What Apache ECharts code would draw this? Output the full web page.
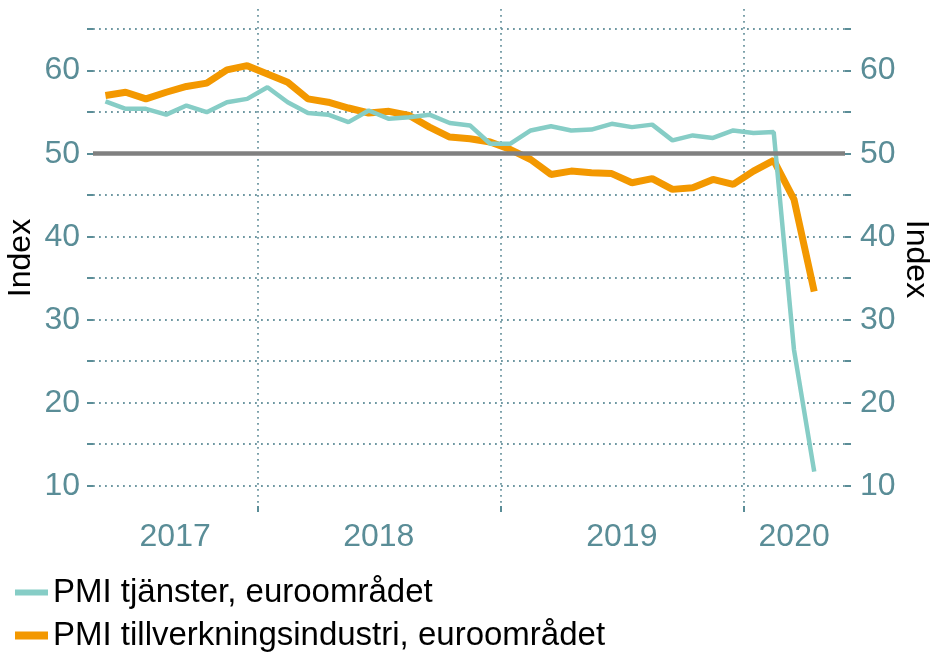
<!DOCTYPE html>
<html>
<head>
<meta charset="utf-8">
<script src="https://cdn.jsdelivr.net/npm/echarts@6/dist/echarts.min.js"></script>
<style>
  html, body { margin: 0; padding: 0; background: #fff; }
  #chart { width: 930px; height: 655px; }
</style>
</head>
<body>
<div id="chart"></div>
<script>
// monthly PMI, euro area
const months = [
  '2017-05', '2017-06', '2017-07', '2017-08', '2017-09', '2017-10', '2017-11', '2017-12',
  '2018-01', '2018-02', '2018-03', '2018-04', '2018-05', '2018-06', '2018-07', '2018-08',
  '2018-09', '2018-10', '2018-11', '2018-12', '2019-01', '2019-02', '2019-03', '2019-04',
  '2019-05', '2019-06', '2019-07', '2019-08', '2019-09', '2019-10', '2019-11', '2019-12',
  '2020-01', '2020-02', '2020-03', '2020-04'
];
const services = [
  56.3, 55.4, 55.4, 54.7, 55.8, 55.0, 56.2, 56.6,
  58.0, 56.2, 54.9, 54.7, 53.8, 55.2, 54.2, 54.4,
  54.7, 53.7, 53.4, 51.2, 51.2, 52.8, 53.3, 52.8,
  52.9, 53.6, 53.2, 53.5, 51.6, 52.2, 51.9, 52.8,
  52.5, 52.6, 26.4, 11.7
];
const manufacturing = [
  57.0, 57.4, 56.6, 57.4, 58.1, 58.5, 60.1, 60.6,
  59.6, 58.6, 56.6, 56.2, 55.5, 54.9, 55.1, 54.6,
  53.2, 52.0, 51.8, 51.4, 50.5, 49.3, 47.5, 47.9,
  47.7, 47.6, 46.5, 47.0, 45.7, 45.9, 46.9, 46.3,
  47.9, 49.2, 44.5, 33.4
];
const years = ['2017', '2018', '2019', '2020'];
const yTicks = [10, 15, 20, 25, 30, 35, 40, 45, 50, 55, 60, 65];
const yLabels = [10, 20, 30, 40, 50, 60];
const seriesNames = ['PMI tjänster, euroområdet', 'PMI tillverkningsindustri, euroområdet'];

// x in months since jan 2017, points at mid month
const toX = s => (parseInt(s.slice(0, 4)) - 2017) * 12 + parseInt(s.slice(5, 7)) - 1 + 0.5;
const xMin = 3.886, xMax = 41.02;
const yearStarts = years.slice(1).map(y => (parseInt(y) - 2017) * 12);
const yearMids = years.map((y, i) => {
  const a = Math.max(xMin, i * 12), b = Math.min(xMax, (i + 1) * 12);
  return (a + b) / 2;
});

const teal = '#86cdc6';
const orange = '#f39800';
const axisCol = '#5a8d97';
const gridLine = { color: '#6f98a2', width: 1.8, type: [1.8, 4.2] };
const font = 'Liberation Sans, Arial, sans-serif';

const chart = echarts.init(document.getElementById('chart'));

const yAxisBase = {
  type: 'value',
  min: 6.83,
  max: 67.43,
  axisLine: { show: false },
  axisTick: { show: true, customValues: yTicks, length: 6, lineStyle: { color: axisCol, width: 2 } },
  axisLabel: {
    customValues: yLabels,
    color: axisCol,
    fontSize: 32,
    fontFamily: font
  }
};

chart.setOption({
  animation: false,
  grid: { left: 93, right: 85, top: 9, bottom: 143 },
  xAxis: {
    type: 'value',
    min: xMin,
    max: xMax,
    axisLine: { show: false },
    axisTick: { show: true, inside: true, length: 6, customValues: yearStarts, lineStyle: { color: axisCol, width: 2 } },
    axisLabel: {
      customValues: yearMids,
      formatter: v => years[Math.floor(v / 12)],
      color: axisCol,
      fontSize: 32,
      fontFamily: font,
      margin: 9
    },
    splitLine: { show: true, lineStyle: gridLine }
  },
  yAxis: [
    Object.assign({}, yAxisBase, {
      position: 'left',
      axisLabel: Object.assign({}, yAxisBase.axisLabel, { margin: 13 }),
      splitLine: { show: true, lineStyle: gridLine }
    }),
    Object.assign({}, yAxisBase, {
      position: 'right',
      axisLabel: Object.assign({}, yAxisBase.axisLabel, { margin: 15 }),
      splitLine: { show: false }
    })
  ],
  legend: [
    {
      data: [seriesNames[0]],
      left: 15,
      top: 576,
      padding: 0,
      icon: 'rect',
      itemWidth: 33,
      itemHeight: 6,
      textStyle: { color: '#000', fontSize: 33, fontFamily: font }
    },
    {
      data: [seriesNames[1]],
      left: 15,
      top: 619,
      padding: 0,
      icon: 'rect',
      itemWidth: 33,
      itemHeight: 8,
      textStyle: { color: '#000', fontSize: 33, fontFamily: font }
    }
  ],
  graphic: [
    {
      type: 'text', x: 21.5, y: 258, rotation: Math.PI / 2,
      style: { text: 'Index', fill: '#000', font: '32px ' + font, align: 'center', verticalAlign: 'middle' }
    },
    {
      type: 'text', x: 915.5, y: 259, rotation: -Math.PI / 2,
      style: { text: 'Index', fill: '#000', font: '32px ' + font, align: 'center', verticalAlign: 'middle' }
    }
  ],
  series: [
    {
      name: 'ref',
      type: 'line',
      data: [],
      silent: true,
      markLine: {
        silent: true,
        symbol: 'none',
        label: { show: false },
        lineStyle: { color: '#808080', width: 4.5, type: 'solid' },
        data: [{ yAxis: 50 }]
      }
    },
    {
      name: seriesNames[1],
      type: 'line',
      data: months.map((m, i) => [toX(m), manufacturing[i]]),
      showSymbol: false,
      lineStyle: { color: orange, width: 7 },
      itemStyle: { color: orange }
    },
    {
      name: seriesNames[0],
      type: 'line',
      data: months.map((m, i) => [toX(m), services[i]]),
      showSymbol: false,
      lineStyle: { color: teal, width: 4.5 },
      itemStyle: { color: teal }
    }
  ]
});
</script>
</body>
</html>
